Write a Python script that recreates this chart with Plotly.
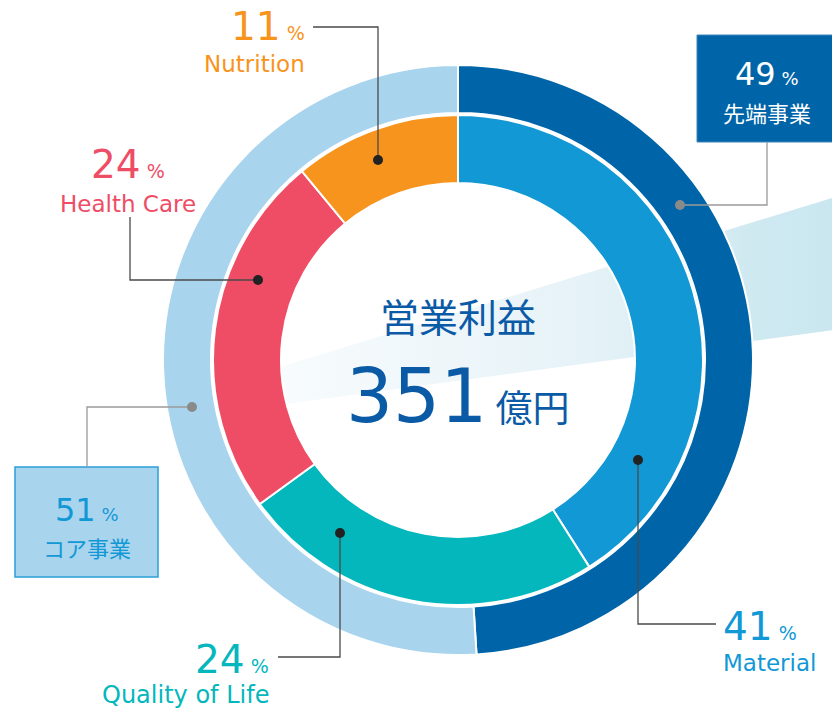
import plotly.graph_objects as go

# ---------------- data ----------------
outer_labels = ["先端事業", "コア事業"]
outer_values = [49, 51]
outer_colors = ["#0064A8", "#A9D4EE"]

inner_labels = ["Material", "Quality of Life", "Health Care", "Nutrition"]
inner_values = [41, 24, 24, 11]
inner_colors = ["#1398D6", "#04B7BD", "#EF4D66", "#F7941D"]

center_title = "営業利益"
center_value = 351
center_unit = "億円"

W, H = 832, 712
FONT = '"DejaVu Sans", "Noto Sans CJK JP", sans-serif'
CJK = '"Noto Sans CJK JP", sans-serif'

def px(x):
    return x / W

def py(y):
    return 1 - y / H

CX, CY = 458, 360
R_OUT, R_OUT_IN = 295, 247
R_IN, R_IN_HOLE = 245, 177

fig = go.Figure()

# decorative light beam behind the donut
fig.add_trace(go.Scatter(
    x=[270, 842, 842, 270, 270], y=[370, 195, 329, 406, 370],
    mode="lines", line=dict(width=0), fill="toself",
    fillgradient=dict(type="horizontal",
                      colorscale=[[0, "#f8fcfd"], [0.32, "#eef6fa"], [0.56, "#e5f2f7"],
                                  [0.85, "#cfe9f1"], [1, "#c9e7f0"]]),
    hoverinfo="skip", showlegend=False))

fig.add_trace(go.Pie(
    labels=outer_labels, values=outer_values, sort=False, direction="clockwise",
    rotation=0, hole=R_OUT_IN / R_OUT, textinfo="none", hoverinfo="label+percent",
    marker=dict(colors=outer_colors, line=dict(color="white", width=2)),
    domain=dict(x=[px(CX - R_OUT), px(CX + R_OUT)], y=[py(CY + R_OUT), py(CY - R_OUT)]),
    showlegend=False))

fig.add_trace(go.Pie(
    labels=inner_labels, values=inner_values, sort=False, direction="clockwise",
    rotation=0, hole=R_IN_HOLE / R_IN, textinfo="none", hoverinfo="label+percent",
    marker=dict(colors=inner_colors, line=dict(color="white", width=2)),
    domain=dict(x=[px(CX - R_IN), px(CX + R_IN)], y=[py(CY + R_IN), py(CY - R_IN)]),
    showlegend=False))

shapes = []
annotations = []

def leader(points, color, dot_color, width=1.3):
    d = "M " + " L ".join(f"{px(x)} {py(y)}" for x, y in points)
    shapes.append(dict(type="path", path=d, xref="paper", yref="paper",
                       line=dict(color=color, width=width), layer="above"))
    x, y = points[-1]
    r = 5
    shapes.append(dict(type="circle", xref="paper", yref="paper",
                       x0=px(x - r), x1=px(x + r), y0=py(y + r), y1=py(y - r),
                       fillcolor=dot_color, line=dict(width=0), layer="above"))

def text(x, y, s, color, size, xanchor="center", family=FONT):
    annotations.append(dict(x=px(x), y=py(y), xref="paper", yref="paper", text=s,
                            showarrow=False, xanchor=xanchor, yanchor="middle",
                            font=dict(family=family, size=size, color=color)))

def pct(v, small=19):
    return f"{v}<span style='font-size:{small}px'> %</span>"

# boxes
shapes.append(dict(type="rect", xref="paper", yref="paper", x0=px(697), x1=px(840),
                   y0=py(142), y1=py(35), fillcolor=outer_colors[0],
                   line=dict(color="#3f86bd", width=1), layer="above"))
shapes.append(dict(type="rect", xref="paper", yref="paper", x0=px(15), x1=px(158),
                   y0=py(577), y1=py(467), fillcolor=outer_colors[1],
                   line=dict(color="#2a9fd8", width=1.5), layer="above"))

# leader lines
leader([(313, 27), (378, 27), (378, 160)], "#4a4a4a", "#222222")
leader([(130, 217), (130, 280), (258, 280)], "#4a4a4a", "#222222")
leader([(278, 657), (340, 657), (340, 533)], "#4a4a4a", "#222222")
leader([(716, 624), (638, 624), (638, 460)], "#4a4a4a", "#222222")
leader([(767, 142), (767, 205), (680, 205)], "#9a9a9a", "#8a8a8a")
leader([(87, 467), (87, 407), (192, 407)], "#9a9a9a", "#8a8a8a")

# inner labels
text(307, 27, pct(inner_values[3]), inner_colors[3], 39, "right")
text(307, 64, inner_labels[3], inner_colors[3], 23, "right")
text(128, 164, pct(inner_values[2]), inner_colors[2], 39)
text(128, 204, inner_labels[2], inner_colors[2], 23)
text(271, 659, pct(inner_values[1]), inner_colors[1], 39, "right")
text(271, 695, inner_labels[1], inner_colors[1], 24, "right")
text(721, 626, pct(inner_values[0]), inner_colors[0], 39, "left")
text(721, 663, inner_labels[0], inner_colors[0], 23, "left")

# outer labels (boxes)
text(767, 74, pct(outer_values[0], small=18), "white", 32)
text(767, 112, outer_labels[0], "white", 22, family=CJK)
text(87, 510, pct(outer_values[1], small=18), "#1398D6", 32)
text(87, 547, outer_labels[1], "#1398D6", 22, family=CJK)

# center
text(458, 315, center_title, "#0B5AA6", 39, family=CJK)
text(458, 396, f"{center_value}<span style='font-size:37px; font-family:Noto Sans CJK JP'> {center_unit}</span>",
     "#0B5AA6", 74)

fig.update_layout(
    width=W, height=H, margin=dict(l=0, r=0, t=0, b=0),
    paper_bgcolor="white", plot_bgcolor="white",
    xaxis=dict(range=[0, W], visible=False, fixedrange=True),
    yaxis=dict(range=[H, 0], visible=False, fixedrange=True),
    shapes=shapes, annotations=annotations, showlegend=False)

fig.write_html("out.html", config={"displayModeBar": False},
               post_script="document.body.style.margin='0';")
